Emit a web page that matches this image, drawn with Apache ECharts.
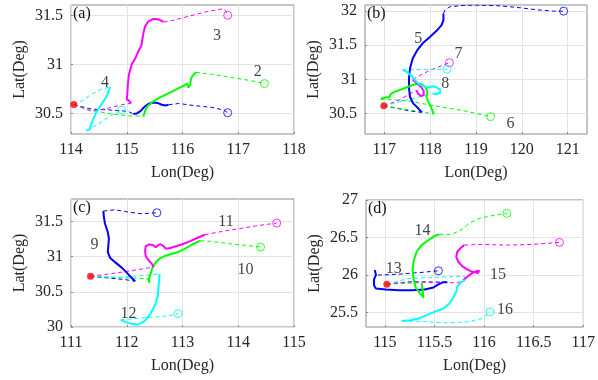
<!DOCTYPE html>
<html><head><meta charset="utf-8">
<script src="https://cdn.jsdelivr.net/npm/echarts@6/dist/echarts.min.js"></script>
<style>html,body{margin:0;padding:0;background:#fff}#c{width:598px;height:380px}</style>
</head><body><div id="c"></div>
<script>
// ---------------- tick labels ----------------
const xTicksA = [114, 115, 116, 117, 118];
const yTicksA = [30.5, 31, 31.5];
const xTicksB = [117, 118, 119, 120, 121];
const yTicksB = [30.5, 31, 31.5, 32];
const xTicksC = [111, 112, 113, 114, 115];
const yTicksC = [30, 30.5, 31, 31.5];
const xTicksD = [115, 115.5, 116, 116.5, 117];
const yTicksD = [25.5, 26, 26.5, 27];

// ---------------- source points ----------------
const srcA = [114.05, 30.59];
const srcB = [116.99, 30.615];
const srcC = [111.35, 30.72];
const srcD = [115.02, 25.88];

// ---------------- trajectories (lon, lat); cut = [solid start index, solid end index] ----------------
const tr1 = [[114.05,30.59],[114.37,30.544],[114.73,30.534],[115.03,30.52],[115.12,30.493],[115.18,30.5],[115.24,30.52],[115.28,30.544],[115.34,30.578],[115.40,30.601],[115.48,30.611],[115.56,30.605],[115.63,30.588],[115.70,30.581],[115.75,30.588],[115.93,30.601],[116.23,30.578],[116.53,30.561],[116.74,30.534],[116.81,30.507]];
const cut1 = [4, 14];
const tr2 = [[114.05,30.59],[114.37,30.534],[114.73,30.493],[115.03,30.476],[115.30,30.47],[115.33,30.527],[115.38,30.578],[115.45,30.611],[115.57,30.655],[115.69,30.689],[115.81,30.723],[115.93,30.757],[116.02,30.78],[116.08,30.804],[116.11,30.764],[116.14,30.797],[116.15,30.848],[116.18,30.882],[116.24,30.919],[116.53,30.899],[116.89,30.865],[117.25,30.831],[117.47,30.804]];
const cut2 = [4, 18];
const tr3 = [[114.05,30.59],[114.37,30.52],[114.67,30.554],[114.91,30.588],[115.08,30.605],[115.04,30.628],[115.0,30.645],[115.01,30.696],[115.02,30.797],[115.04,30.899],[115.09,31.0],[115.16,31.068],[115.21,31.135],[115.26,31.186],[115.28,31.253],[115.30,31.321],[115.33,31.389],[115.39,31.439],[115.48,31.463],[115.58,31.456],[115.66,31.432],[115.81,31.446],[116.11,31.49],[116.41,31.534],[116.74,31.568],[116.78,31.541],[116.81,31.5]];
const cut3 = [4, 20];
const tr4 = [[114.05,30.59],[114.19,30.628],[114.37,30.696],[114.55,30.747],[114.70,30.77],[114.67,30.713],[114.61,30.645],[114.55,30.595],[114.49,30.544],[114.44,30.493],[114.40,30.443],[114.36,30.385],[114.34,30.341],[114.28,30.324],[114.49,30.392],[114.67,30.459],[114.82,30.51],[114.91,30.534]];
const cut4 = [4, 13];

const tr5 = [[116.99,30.615],[117.27,30.576],[117.56,30.537],[117.82,30.517],[117.74,30.576],[117.63,30.649],[117.56,30.746],[117.54,30.868],[117.54,31.015],[117.56,31.161],[117.62,31.307],[117.72,31.429],[117.85,31.537],[118.0,31.624],[118.14,31.712],[118.25,31.795],[118.29,31.868],[118.29,31.966],[118.33,32.024],[118.43,32.063],[118.73,32.085],[119.02,32.088],[119.45,32.08],[119.89,32.055],[120.33,32.02],[120.69,32.0],[120.91,32.0]];
const cut5 = [3, 17];
const tr6 = [[116.99,30.615],[117.56,30.551],[118.08,30.493],[118.03,30.576],[117.96,30.673],[117.92,30.746],[117.94,30.82],[117.89,30.893],[117.80,30.935],[117.68,30.93],[117.55,30.9],[117.38,30.854],[117.23,30.82],[117.14,30.785],[117.11,30.737],[117.04,30.737],[116.92,30.712],[117.49,30.688],[118.0,30.624],[118.73,30.541],[119.32,30.454]];
const cut6 = [2, 16];
const tr7 = [[116.99,30.615],[117.3,30.69],[117.7,30.84],[117.74,30.79],[117.8,30.755],[117.86,30.77],[117.86,30.83],[117.79,30.9],[117.7,30.95],[117.62,31.0],[117.98,31.13],[118.42,31.245]];
const cut7 = [2, 9];
const tr8 = [[116.99,30.615],[117.5,30.7],[118.07,30.79],[118.15,30.785],[118.22,30.8],[118.22,30.85],[118.15,30.88],[118.07,30.9],[117.96,30.88],[117.85,30.9],[117.74,30.94],[117.67,30.99],[117.6,31.05],[117.49,31.11],[117.4,31.14],[117.8,31.145],[118.37,31.15]];
const cut8 = [2, 14];

const tr9 = [[111.35,30.72],[111.67,30.697],[111.97,30.674],[112.15,30.65],[112.09,30.697],[112.0,30.773],[111.91,30.844],[111.8,30.915],[111.7,30.986],[111.66,31.066],[111.67,31.161],[111.68,31.255],[111.66,31.35],[111.61,31.468],[111.59,31.563],[111.58,31.648],[111.79,31.667],[112.03,31.634],[112.27,31.61],[112.45,31.62],[112.54,31.624]];
const cut9 = [3, 15];
const tr10 = [[111.35,30.72],[111.85,30.702],[112.38,30.688],[112.41,30.631],[112.4,30.688],[112.43,30.764],[112.46,30.839],[112.51,30.91],[112.58,30.967],[112.68,31.009],[112.8,31.038],[112.92,31.066],[113.02,31.104],[113.11,31.142],[113.2,31.184],[113.32,31.227],[113.53,31.217],[113.83,31.184],[114.13,31.161],[114.4,31.137]];
const cut10 = [2, 15];
const tr11 = [[111.35,30.72],[111.73,30.759],[112.09,30.801],[112.48,30.853],[112.45,30.901],[112.39,30.948],[112.34,31.009],[112.33,31.09],[112.34,31.147],[112.4,31.175],[112.48,31.161],[112.52,31.132],[112.56,31.161],[112.6,31.18],[112.66,31.151],[112.7,31.113],[112.78,31.123],[112.9,31.151],[113.02,31.184],[113.14,31.222],[113.26,31.265],[113.4,31.312],[113.71,31.359],[114.01,31.397],[114.37,31.444],[114.69,31.478]];
const cut11 = [3, 21];
const tr12 = [[111.35,30.72],[111.91,30.707],[112.59,30.754],[112.58,30.664],[112.57,30.57],[112.56,30.452],[112.51,30.319],[112.43,30.191],[112.32,30.083],[112.2,30.035],[112.08,30.045],[111.97,30.073],[111.89,30.102],[112.15,30.12],[112.45,30.14],[112.75,30.158],[112.92,30.191]];
const cut12 = [2, 12];

const tr13 = [[115.02,25.88],[115.24,25.911],[115.63,25.907],[115.59,25.907],[115.54,25.876],[115.49,25.836],[115.4,25.809],[115.27,25.8],[115.14,25.8],[115.01,25.809],[114.91,25.822],[114.89,25.867],[114.89,25.942],[114.91,26.0],[114.9,26.067],[114.91,26.0],[115.14,26.013],[115.4,26.04],[115.54,26.058]];
const cut13 = [2, 14];
const tr14 = [[115.02,25.88],[115.17,25.889],[115.37,25.898],[115.38,25.809],[115.39,25.702],[115.36,25.747],[115.31,25.836],[115.29,25.942],[115.28,26.067],[115.29,26.191],[115.32,26.311],[115.37,26.4],[115.44,26.467],[115.5,26.52],[115.55,26.542],[115.67,26.542],[115.77,26.6],[115.85,26.689],[115.95,26.756],[116.1,26.796],[116.23,26.822]];
const cut14 = [2, 14];
const tr15 = [[115.02,25.88],[115.24,25.911],[115.73,25.898],[115.79,25.933],[115.85,26.0],[115.9,26.044],[115.95,26.062],[115.97,26.044],[115.94,26.027],[115.88,26.044],[115.83,26.076],[115.78,26.12],[115.74,26.178],[115.72,26.244],[115.73,26.311],[115.77,26.369],[115.8,26.4],[115.96,26.409],[116.23,26.4],[116.49,26.409],[116.76,26.436]];
const cut15 = [3, 16];
const tr16 = [[115.02,25.88],[115.24,25.956],[115.8,25.987],[115.81,25.933],[115.77,25.907],[115.73,25.853],[115.72,25.778],[115.69,25.702],[115.65,25.622],[115.59,25.556],[115.5,25.511],[115.42,25.467],[115.34,25.422],[115.26,25.4],[115.17,25.391],[115.4,25.382],[115.63,25.364],[115.83,25.378],[115.98,25.422],[116.06,25.511]];
const cut16 = [3, 14];

// ---------------- trajectory number annotations ----------------
const lblA = [['2',117.35,30.92],['3',116.62,31.29],['4',114.61,30.81]];
const lblB = [['5',117.74,31.59],['6',119.75,30.35],['7',118.62,31.38],['8',118.33,30.94]];
const lblC = [['9',111.42,31.17],['10',114.13,30.81],['11',113.78,31.49],['12',112.03,30.19]];
const lblD = [['13',115.09,26.09],['14',115.38,26.59],['15',116.14,26.0],['16',116.21,25.54]];

// ---------------- layout / style ----------------
const FONT = '"Liberation Serif","Times New Roman",serif';
const BLUE = '#0000ff', GREEN = '#00ff00', MAG = '#ff00ff', CYAN = '#00ffff';
const panels = [
  {grid:{left:71,top:5,width:223,height:129}, x:[114,118], y:[30.29,31.605], xt:xTicksA, yt:yTicksA, src:srcA,
   tracks:[[tr1,cut1,BLUE],[tr2,cut2,GREEN],[tr3,cut3,MAG],[tr4,cut4,CYAN]], labels:lblA, tag:'(a)'},
  {grid:{left:365,top:5,width:222,height:129}, x:[116.58,121.42], y:[30.2,32.09], xt:xTicksB, yt:yTicksB, src:srcB,
   tracks:[[tr5,cut5,BLUE],[tr6,cut6,GREEN],[tr7,cut7,MAG],[tr8,cut8,CYAN]], labels:lblB, tag:'(b)'},
  {grid:{left:71,top:199,width:223,height:128}, x:[111,115], y:[30,31.82], xt:xTicksC, yt:yTicksC, src:srcC,
   tracks:[[tr9,cut9,BLUE],[tr10,cut10,GREEN],[tr11,cut11,MAG],[tr12,cut12,CYAN]], labels:lblC, tag:'(c)'},
  {grid:{left:366,top:200,width:222,height:127}, x:[114.81,117], y:[25.31,27], xt:xTicksD, yt:yTicksD, src:srcD,
   tracks:[[tr13,cut13,BLUE],[tr14,cut14,GREEN],[tr15,cut15,MAG],[tr16,cut16,CYAN]], labels:lblD, tag:'(d)'}
];

const grids = [], xAxes = [], yAxes = [], series = [], graphics = [];
const txt = {fontFamily: FONT, fontSize: 16, color: '#262626'};
panels.forEach((p, i) => {
  grids.push(Object.assign({show:true, borderColor:'#8c8c8c', borderWidth:1, backgroundColor:'#fff', containLabel:false}, p.grid));
  xAxes.push({type:'value', gridIndex:i, min:p.x[0], max:p.x[1],
    name:'Lon(Deg)', nameLocation:'middle', nameGap:31, nameTextStyle:txt,
    axisLine:{show:false}, axisTick:{show:true, inside:true, length:2, customValues:p.xt, lineStyle:{color:'#8c8c8c'}},
    axisLabel:Object.assign({margin:8, customValues:p.xt, showMinLabel:true, showMaxLabel:true}, txt),
    splitLine:{show:true, lineStyle:{color:'#e3e3e3', width:1}}});
  yAxes.push({type:'value', gridIndex:i, min:p.y[0], max:p.y[1],
    name:'Lat(Deg)', nameLocation:'middle', nameGap:43, nameTextStyle:txt,
    axisLine:{show:false}, axisTick:{show:true, inside:true, length:2, customValues:p.yt, lineStyle:{color:'#8c8c8c'}},
    axisLabel:Object.assign({margin:8, customValues:p.yt, showMinLabel:true, showMaxLabel:true}, txt),
    splitLine:{show:true, lineStyle:{color:'#e3e3e3', width:1}}});
  p.tracks.forEach(([tr, cut, col]) => {
    const base = {type:'line', xAxisIndex:i, yAxisIndex:i, symbol:'none', silent:true, animation:false, clip:true};
    series.push(Object.assign({}, base, {data: tr.slice(0, cut[0] + 1), lineStyle:{color:col, width:1, type:[4,3]}, z:2}));
    series.push(Object.assign({}, base, {data: tr.slice(cut[0], cut[1] + 1), lineStyle:{color:col, width:2}, z:3}));
    series.push(Object.assign({}, base, {data: tr.slice(cut[1]), lineStyle:{color:col, width:1, type:[4,3]}, z:2}));
    series.push({type:'scatter', xAxisIndex:i, yAxisIndex:i, silent:true, animation:false, z:4,
      data:[tr[tr.length - 1]], symbol:'circle', symbolSize:8,
      itemStyle:{color:'rgba(255,255,255,0)', borderColor:col, borderWidth:1}});
  });
  series.push({type:'scatter', xAxisIndex:i, yAxisIndex:i, silent:true, animation:false, z:6,
    data:[p.src], symbol:'circle', symbolSize:7, itemStyle:{color:'#ff0000'}});
  series.push({type:'scatter', xAxisIndex:i, yAxisIndex:i, silent:true, animation:false, z:7,
    data:p.labels.map(l => ({name:l[0], value:[l[1], l[2]]})), symbolSize:0,
    label:Object.assign({show:true, position:'inside', formatter:'{b}'}, txt, {color:'#111'})});
  graphics.push({type:'text', left:p.grid.left + 2, top:p.grid.top + 1, z:100,
    style:{text:p.tag, font:'16px ' + FONT, fill:'#111'}});
});

const chart = echarts.init(document.getElementById('c'), null, {renderer:'canvas'});
chart.setOption({animation:false, backgroundColor:'#fff', grid:grids, xAxis:xAxes, yAxis:yAxes, series:series, graphic:graphics});
</script></body></html>
